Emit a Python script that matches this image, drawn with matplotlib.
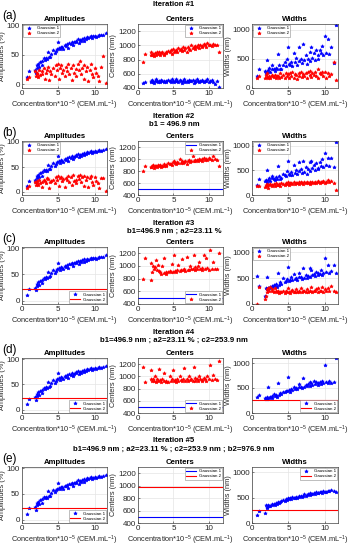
import numpy as np
import matplotlib.pyplot as plt

plt.rcParams['font.family'] = ['Liberation Sans', 'DejaVu Sans']
plt.rcParams['mathtext.fontset'] = 'custom'
plt.rcParams['mathtext.rm'] = 'Liberation Sans'
plt.rcParams['mathtext.default'] = 'regular'

# ======================================================
# Data
# ======================================================
conc = [0.7, 1.0, 1.8, 1.9, 2.0, 2.1, 2.2, 2.4, 2.5, 2.7,
        2.8, 3.0, 3.1, 3.3, 3.4, 3.6, 3.7, 3.9, 4.0, 4.3,
        4.5, 4.7, 4.8, 5.0, 5.1, 5.2, 5.4, 5.5, 5.7, 5.9,
        6.0, 6.2, 6.4, 6.5, 6.7, 6.9, 7.0, 7.2, 7.4, 7.5,
        7.7, 7.9, 8.0, 8.1, 8.3, 8.5, 8.6, 8.8, 9.0, 9.1,
        9.3, 9.5, 9.6, 9.8, 10.0, 10.2, 10.4, 10.6, 10.9, 11.2, 11.5]

amp_g1 = [12, 22, 25, 20, 32, 28, 35, 30, 38, 40, 33, 44, 42, 45, 43, 55, 46, 47, 52, 58,
          53, 57, 60, 72, 62, 59, 64, 63, 60, 66, 65, 68, 62, 70, 69, 72, 66, 71, 74, 72,
          76, 70, 75, 73, 77, 74, 79, 76, 80, 78, 80, 82, 79, 81, 82, 80, 82, 84, 83, 84, 86]
amp_g2_1 = [10, 12, 22, 15, 18, 20, 12, 25, 16, 22, 18, 27, 10, 20, 25, 30, 8, 22, 18, 28,
            15, 32, 25, 35, 10, 28, 33, 20, 25, 15, 30, 22, 35, 18, 28, 8, 32, 20, 26, 15,
            35, 24, 40, 18, 28, 10, 32, 22, 30, 6, 25, 35, 18, 12, 28, 20, 15, 5, 30, 48, 3]
amp_g2_2 = [8, 12, 20, 15, 18, 22, 14, 24, 18, 20, 10, 25, 22, 18, 28, 26, 8, 20, 22, 25,
            18, 30, 24, 33, 12, 28, 30, 22, 26, 10, 28, 24, 32, 20, 30, 15, 34, 22, 25, 18,
            32, 26, 35, 20, 30, 12, 33, 24, 30, 10, 28, 32, 20, 15, 30, 22, 18, 8, 28, 28, 2]

cen_g1_1 = [470, 490, 480, 500, 510, 490, 470, 500, 520, 495, 480, 505, 490, 515, 500, 485, 505, 495, 480, 510,
            500, 490, 520, 505, 480, 495, 530, 500, 485, 510, 495, 470, 500, 520, 490, 505, 480, 515, 500, 495,
            510, 470, 500, 490, 525, 505, 480, 500, 510, 495, 485, 505, 500, 520, 490, 500, 510, 480, 450, 500, 410]
cen_g2_1 = [770, 880, 860, 900, 870, 880, 850, 890, 870, 900, 880, 910, 870, 890, 900, 880, 860, 910, 890, 920,
            900, 930, 880, 950, 910, 920, 940, 900, 960, 930, 950, 920, 980, 940, 960, 900, 970, 950, 940, 1000,
            960, 980, 950, 990, 970, 1000, 960, 1010, 990, 970, 1020, 1000, 980, 1030, 1000, 1010, 990, 1020, 1000, 1010, 910]
cen_g2_2 = [800, 890, 870, 860, 880, 900, 850, 880, 890, 870, 900, 880, 900, 870, 890, 920, 880, 900, 890, 930,
            910, 920, 900, 950, 960, 930, 920, 950, 940, 1000, 930, 960, 940, 950, 970, 920, 960, 990, 950, 960,
            1050, 970, 980, 960, 990, 970, 1000, 980, 1000, 960, 1010, 990, 1000, 980, 1010, 1000, 990, 1050, 1000, 980, 880]
cen_g2_3 = [790, 1130, 780, 1050, 900, 1000, 950, 980, 1100, 930, 1010, 920, 900, 880, 1000, 890, 1130, 880, 900, 910,
            920, 900, 1030, 910, 1170, 920, 910, 930, 1020, 920, 940, 1110, 930, 950, 920, 1140, 940, 930, 1000, 960,
            950, 1170, 940, 980, 960, 1000, 1060, 950, 970, 940, 1180, 960, 1120, 970, 940, 1250, 960, 1060, 950, 950, 1210]
cen_g2_4 = [1150, 900, 950, 1100, 920, 960, 930, 1000, 900, 950, 920, 1120, 940, 900, 960, 930, 1050, 910, 920, 900,
            1000, 930, 950, 1110, 920, 940, 900, 960, 930, 1000, 940, 920, 960, 1130, 930, 950, 920, 1000, 940, 960,
            920, 1150, 930, 980, 950, 920, 1000, 960, 940, 920, 980, 950, 930, 1000, 960, 1180, 940, 1020, 960, 940, 1250]

wid_g1_1 = [200, 330, 300, 250, 480, 270, 310, 350, 280, 320, 400, 330, 300, 350, 320, 580, 400, 330, 320, 400,
            450, 380, 500, 700, 420, 400, 450, 380, 600, 440, 520, 400, 460, 700, 500, 430, 750, 480, 560, 420,
            500, 620, 470, 700, 520, 600, 480, 650, 560, 500, 650, 600, 720, 560, 900, 600, 850, 580, 700, 430, 1080]
wid_g2_1 = [180, 200, 170, 230, 190, 260, 180, 210, 170, 220, 200, 190, 230, 180, 210, 200, 170, 250, 190, 230,
            180, 260, 200, 240, 170, 250, 210, 270, 180, 240, 220, 160, 250, 200, 280, 190, 240, 210, 260, 170,
            280, 220, 300, 190, 250, 230, 270, 200, 320, 180, 260, 240, 280, 200, 270, 180, 250, 200, 240, 450, 140]
wid_g1_2 = [200, 330, 280, 300, 500, 260, 300, 340, 290, 350, 380, 320, 310, 360, 330, 600, 380, 320, 340, 420,
            400, 390, 480, 700, 430, 410, 460, 400, 620, 450, 500, 420, 480, 680, 520, 440, 700, 470, 580, 430,
            520, 680, 480, 700, 540, 620, 500, 660, 560, 520, 680, 600, 740, 580, 850, 620, 760, 600, 750, 580, 1080]
wid_g2_2 = [190, 180, 170, 200, 220, 190, 140, 210, 230, 180, 200, 220, 190, 240, 210, 200, 230, 190, 250, 220,
            200, 240, 230, 260, 210, 240, 250, 220, 260, 230, 250, 240, 260, 220, 270, 250, 230, 260, 240, 270,
            250, 230, 260, 240, 270, 250, 260, 240, 280, 260, 250, 270, 260, 280, 250, 270, 300, 260, 280, 250, 100]
wid_g1_3 = [540, 350, 150, 300, 280, 520, 310, 300, 330, 350, 320, 360, 340, 380, 330, 600, 360, 420, 380, 500,
            430, 450, 480, 720, 440, 470, 520, 460, 580, 480, 500, 470, 520, 600, 530, 480, 700, 510, 560, 500,
            540, 700, 520, 650, 560, 580, 540, 620, 560, 600, 580, 660, 560, 600, 880, 620, 760, 600, 640, 760, 600]
wid_g2_3 = [0, 320, 100, 160, 280, 240, 300, 260, 320, 250, 280, 240, 300, 260, 230, 250, 220, 240, 230, 250,
            220, 260, 230, 300, 240, 220, 250, 270, 230, 240, 280, 230, 250, 240, 300, 230, 260, 250, 240, 280,
            230, 250, 260, 330, 240, 260, 250, 280, 240, 300, 260, 250, 320, 240, 280, 260, 300, 250, 340, 260, 230]
wid_g1_4 = [320, 360, 300, 290, 280, 320, 520, 300, 320, 340, 310, 380, 350, 360, 330, 600, 370, 400, 380, 430,
            420, 450, 440, 730, 460, 430, 480, 470, 520, 490, 500, 480, 520, 580, 530, 500, 700, 520, 560, 540,
            580, 620, 550, 600, 560, 640, 580, 620, 600, 560, 620, 580, 640, 600, 960, 620, 600, 640, 600, 620, 1100]
wid_g1_5 = [150, 240, 200, 350, 320, 300, 360, 330, 340, 370, 350, 380, 360, 400, 380, 420, 400, 410, 430, 450,
            440, 470, 460, 500, 480, 490, 470, 510, 490, 500, 520, 500, 530, 510, 540, 520, 530, 560, 540, 550,
            570, 550, 580, 560, 570, 590, 570, 600, 580, 590, 610, 600, 590, 620, 600, 610, 630, 620, 640, 630, 600]

# fixed parameters
b1 = 496.9
a2 = 23.11
c2 = 253.9
b2 = 976.9

iter_titles = ['Iteration #1', 'Iteration #2', 'Iteration #3', 'Iteration #4', 'Iteration #5']
iter_subtitles = ['',
                  'b1 = 496.9 nm',
                  'b1=496.9 nm ; a2=23.11 %',
                  'b1=496.9 nm ; a2=23.11 % ; c2=253.9 nm',
                  'b1=496.9 nm ; a2=23.11 % ; c2=253.9 nm ; b2=976.9 nm']
row_labels = ['(a)', '(b)', '(c)', '(d)', '(e)']
panel_titles = ['Amplitudes', 'Centers', 'Widths']
ylabels = ['Amplitudes (%)', 'Centers (nm)', 'Widths (nm)']

# each panel: (gaussian1, gaussian2, legend loc); list = scatter, number = constant line
panels = [
    [(amp_g1, amp_g2_1, 'upper left'), (cen_g1_1, cen_g2_1, 'upper right'), (wid_g1_1, wid_g2_1, 'upper left')],
    [(amp_g1, amp_g2_2, 'upper left'), (b1, cen_g2_2, 'upper right'), (wid_g1_2, wid_g2_2, 'upper left')],
    [(amp_g1, a2, 'lower right'), (b1, cen_g2_3, 'lower right'), (wid_g1_3, wid_g2_3, 'upper left')],
    [(amp_g1, a2, 'lower right'), (b1, cen_g2_4, 'lower right'), (wid_g1_4, c2, 'lower right')],
    [(amp_g1, a2, 'lower right'), (b1, b2, 'upper right'), (wid_g1_5, c2, 'upper right')],
]

# ======================================================
# Layout (pixels)
# ======================================================
W, H = 348, 550
fig = plt.figure(figsize=(W / 100, H / 100), dpi=100)

cols = [(22, 107), (138, 223), (252, 338)]
rows = [(24, 88), (141, 195), (247, 304), (358, 413), (467, 523)]
head_y = [(5, None), (116, 124), (223, 231), (332, 340), (441, 449)]

xlims = [(0, 11.7), (0, 12), (0, 11.8)]
ylims = [(-6, 102), (400, 1300), (0, 1100)]
yticks = [[0, 50, 100], [400, 600, 800, 1000, 1200], [0, 500, 1000]]
xlabel = 'Concentration*10$^{-5}$ (CEM.mL$^{-1}$)'
txt = '#262626'
fs = 5.3


def draw(ax, x, g, color, label):
    if np.isscalar(g):
        ax.axhline(g, color=color, lw=0.8, label=label)
    else:
        ax.plot(x, g, '*', color=color, ms=2.6, mew=0.45, label=label, linestyle='none')


for r in range(5):
    t, b = rows[r]
    y1, y2 = head_y[r]
    fig.text(174 / W, 1 - y1 / H, iter_titles[r], ha='center', va='center',
             fontsize=5.6, fontweight='bold', color='black')
    if y2 is not None:
        fig.text(174 / W, 1 - y2 / H, iter_subtitles[r], ha='center', va='center',
                 fontsize=5.6, fontweight='bold', color='black')
    fig.text(2 / W, 1 - (t - 8) / H, row_labels[r], ha='left', va='center', fontsize=8.5, color='black')

    for c in range(3):
        l, rr = cols[c]
        ax = fig.add_axes([l / W, 1 - b / H, (rr - l) / W, (b - t) / H])
        g1, g2, loc = panels[r][c]
        draw(ax, conc, g1, 'blue', 'Gaussian 1')
        draw(ax, conc, g2, 'red', 'Gaussian 2')
        ax.set_xlim(*xlims[c])
        ax.set_ylim(*ylims[c])
        ax.set_xticks([0, 5, 10])
        ax.set_yticks(yticks[c])
        ax.grid(True, color='#e4e4e4', lw=0.5)
        ax.set_axisbelow(True)
        ax.tick_params(direction='in', length=1.5, width=0.4, labelsize=5.8, colors=txt, pad=1.5)
        for s in ax.spines.values():
            s.set_linewidth(0.5)
            s.set_color('#404040')
        ax.set_title(panel_titles[c], fontsize=5.6, fontweight='bold', pad=2)
        ax.set_xlabel(xlabel, fontsize=fs, color=txt, labelpad=1.5)
        ax.set_ylabel(ylabels[c], fontsize=fs, color=txt, labelpad=0.5)
        leg = ax.legend(loc=loc, fontsize=3.2, handlelength=2.2, handletextpad=0.6,
                        borderpad=0.3, labelspacing=0.2, borderaxespad=0.2,
                        fancybox=False, framealpha=1, markerscale=1.0)
        leg.get_frame().set_linewidth(0.4)
        leg.get_frame().set_edgecolor('#8c8c8c')

fig.savefig('out.png', dpi=100)
